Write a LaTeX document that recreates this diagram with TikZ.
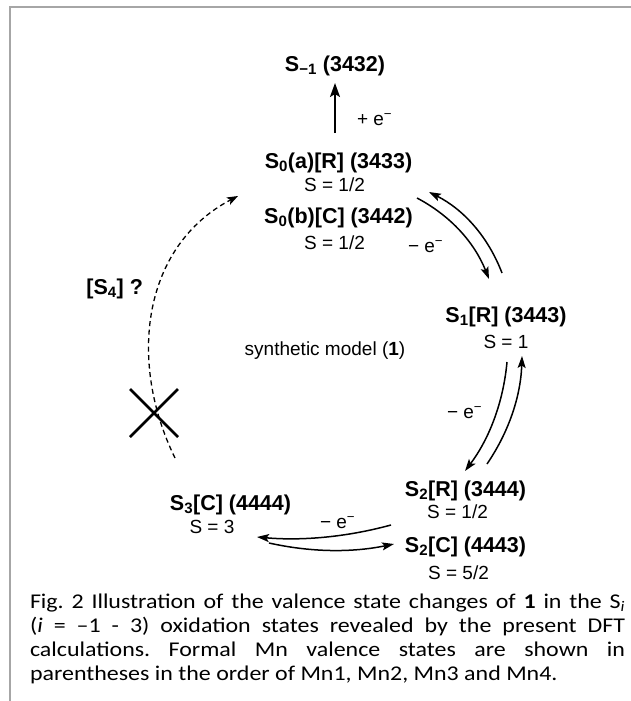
\documentclass[tikz,border=0pt]{standalone}
\usepackage{fontspec}
\usepackage{graphicx}
\setmainfont{Liberation Sans}
\newfontfamily\capfont{Carlito}
\usetikzlibrary{arrows.meta}
\newcommand{\capln}[1]{\scalebox{1.14}[1]{\makebox[522pt][s]{#1}}}
\begin{document}
\begin{tikzpicture}[x=1pt,y=-1pt,
  every node/.style={inner sep=0pt, outer sep=0pt},
  state/.style={font=\fontsize{21.5}{24}\selectfont\bfseries, anchor=base},
  spin/.style={font=\fontsize{19}{22}\selectfont, anchor=base},
  elab/.style={font=\fontsize{19}{22}\selectfont, anchor=base west},
  capline/.style={font=\capfont\fontsize{21}{24}\selectfont\frenchspacing, anchor=base west},
  arr/.style={line width=1.5pt, -{Stealth[length=12pt,width=8pt,inset=2.5pt]}},
  bigarr/.style={line width=2pt, -{Stealth[length=14pt,width=10pt,inset=3pt]}},
  dasharr/.style={line width=1.3pt, dash pattern=on 5pt off 3.5pt, -{Stealth[length=11pt,width=8pt,inset=2.5pt]}},
  cross/.style={line width=2.8pt},
  frameline/.style={draw=black!35, line width=2pt}]
\useasboundingbox (0,0) rectangle (631,701);
% frame
\coordinate (ftr) at (631,7.5);
\coordinate (ftl) at (9.5,7.5);
\coordinate (fbl) at (9.5,701);
\draw[frameline] (ftr) -- (ftl) -- (fbl);
% S-1
\node[state] (sm1) at (335,71) {S\textsubscript{−1} (3432)};
\coordinate (upA) at (335,133);
\coordinate (upB) at (335,83);
\draw[bigarr] (upA) -- (upB);
\node[elab] (plus) at (357,125) {+ e\textsuperscript{−}};
% S0
\node[state] (s0a) at (338.5,168) {S\textsubscript{0}(a)[R] (3433)};
\node[spin] (s0aS) at (334.5,191) {S = 1/2};
\node[state] (s0b) at (338.5,223) {S\textsubscript{0}(b)[C] (3442)};
\node[spin] (s0bS) at (334.5,249) {S = 1/2};
\node[elab] (m01) at (408,252) {− e\textsuperscript{−}};
% S1
\node[state] (s1) at (506,322) {S\textsubscript{1}[R] (3443)};
\node[spin] (s1S) at (506,348) {S = 1};
\node[elab] (m12) at (447,418) {− e\textsuperscript{−}};
% synthetic model
\node[spin] (syn) at (325,355) {synthetic model (\textbf{1})};
% S4
\node[state, anchor=base east] (s4) at (143,294) {[S\textsubscript{4}] ?};
% S2
\node[state] (s2r) at (465.5,496) {S\textsubscript{2}[R] (3444)};
\node[spin] (s2rS) at (457.5,518) {S = 1/2};
\node[state] (s2c) at (465.5,552) {S\textsubscript{2}[C] (4443)};
\node[spin] (s2cS) at (458.5,579) {S = 5/2};
% S3
\node[state] (s3) at (230.5,510) {S\textsubscript{3}[C] (4444)};
\node[spin] (s3S) at (212,533) {S = 3};
\node[elab] (m23) at (320,528) {− e\textsuperscript{−}};
% S0 <-> S1 arrows
\coordinate (a01s) at (417,198);
\coordinate (a01e) at (489,279);
\draw[arr] (a01s) .. controls (451,216) and (474.5,242.7) .. (a01e);
\coordinate (a10s) at (502,273);
\coordinate (a10e) at (429,192);
\draw[arr] (a10s) .. controls (488,236.6) and (463.7,209.6) .. (a10e);
% S1 <-> S2 arrows
\coordinate (a12s) at (507,362);
\coordinate (a12e) at (465,471);
\draw[arr] (a12s) .. controls (503.3,402.3) and (489.3,438.7) .. (a12e);
\coordinate (a21s) at (487,464);
\coordinate (a21e) at (522,356);
\draw[arr] (a21s) .. controls (509.2,431.4) and (520.8,395.4) .. (a21e);
% S2 <-> S3 arrows
\coordinate (a23s) at (391,525);
\coordinate (a23e) at (257,537);
\draw[arr] (a23s) .. controls (347,537) and (302.4,541) .. (a23e);
\coordinate (a32s) at (269,543);
\coordinate (a32e) at (394,544);
\draw[arr] (a32s) .. controls (309.5,552) and (350,553) .. (a32e);
% dashed S3 -> S0 (via S4)
\coordinate (d0) at (175,458);
\coordinate (d1) at (238,196);
\draw[dasharr] (d0) .. controls (127.5,361) and (142.5,246) .. (d1);
% cross
\coordinate (x1) at (130,389);
\coordinate (x2) at (178,437);
\coordinate (x3) at (130,437);
\coordinate (x4) at (178,389);
\draw[cross] (x1) -- (x2);
\draw[cross] (x3) -- (x4);
% caption
\node[capline] (c1) at (30,608.3) {\capln{Fig. 2 Illustration of the valence state changes of \textbf{1} in the S\textsubscript{\textit{i}}}};
\node[capline] (c2) at (30,632.3) {\capln{(\textit{i} = –1 - 3) oxidation states revealed by the present DFT}};
\node[capline] (c3) at (30,656.3) {\capln{calculations. Formal Mn valence states are shown in}};
\node[capline] (c4) at (30,680) {\scalebox{1.14}[1]{parentheses in the order of Mn1, Mn2, Mn3 and Mn4.}};
\end{tikzpicture}
\end{document}
